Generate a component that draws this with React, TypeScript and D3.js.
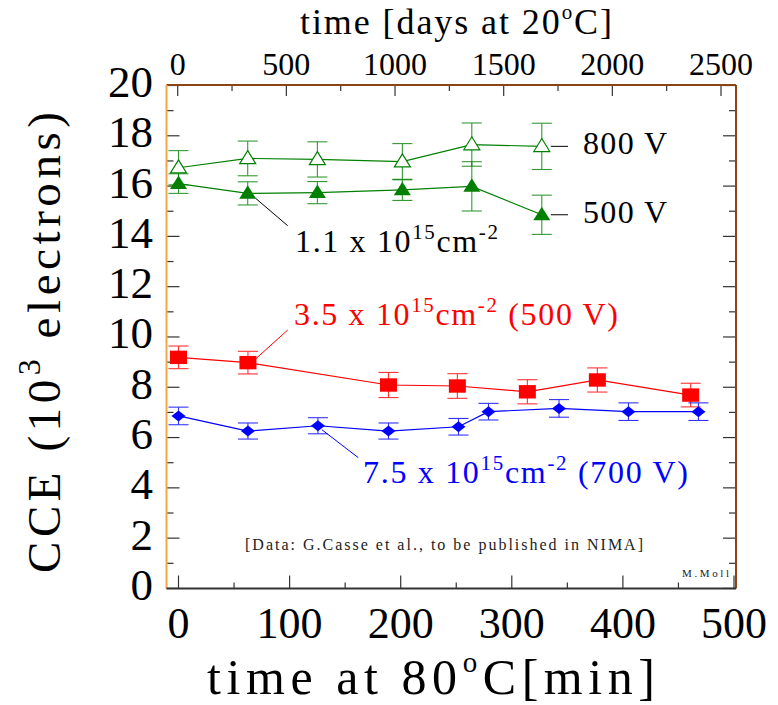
import React from "react";
import * as d3 from "d3";

// Annealing at 80°C: charge collection efficiency of irradiated sensors
const openTriMin = [0, 62.3, 125, 201.5, 264, 327];
const openTriCCE = [16.73, 17.1, 17.06, 16.97, 17.65, 17.58];
const openTriErr = [0.68, 0.69, 0.7, 0.72, 0.86, 0.92];

const fullTriMin = [0, 62.3, 125, 201.5, 264, 327];
const fullTriCCE = [16.1, 15.71, 15.74, 15.85, 15.99, 14.86];
const fullTriErr = [0.39, 0.46, 0.44, 0.42, 0.98, 0.78];

const squareMin = [0, 62.5, 189, 251, 314, 377, 461];
const squareCCE = [9.19, 8.98, 8.09, 8.05, 7.82, 8.29, 7.69];
const squareErr = [0.45, 0.45, 0.5, 0.49, 0.48, 0.48, 0.47];

const diamondMin = [0, 62.5, 125.5, 189, 252, 279, 342.5, 405, 468];
const diamondCCE = [6.86, 6.26, 6.47, 6.26, 6.43, 7.03, 7.16, 7.03, 7.03];
const diamondErr = [0.35, 0.32, 0.32, 0.32, 0.33, 0.33, 0.35, 0.35, 0.35];

const yTicks = [0, 2, 4, 6, 8, 10, 12, 14, 16, 18, 20];
const xTicks = [0, 100, 200, 300, 400, 500];
const dayTicks = [0, 500, 1000, 1500, 2000, 2500];

const GREEN = "#008000";
const RED = "#ff0000";
const BLUE = "#0000ff";
const FONT = "'Liberation Serif', 'Times New Roman', serif";

type Pt = { x: number; y: number; e: number };
const zip = (xs: number[], ys: number[], es: number[]): Pt[] =>
  xs.map((x, i) => ({ x, y: ys[i], e: es[i] }));

export default function App() {
  const frame = { left: 166.5, right: 736, top: 85, bottom: 588.5 };
  const x = d3.scaleLinear().domain([0, 500]).range([178.5, 734]);
  const xDays = d3.scaleLinear().domain([0, 2500]).range([177.7, 721]);
  const y = d3.scaleLinear().domain([0, 20]).range([588.45, 85.5]);

  const line = d3
    .line<Pt>()
    .x((d) => x(d.x))
    .y((d) => y(d.y));

  const openTri = zip(openTriMin, openTriCCE, openTriErr);
  const fullTri = zip(fullTriMin, fullTriCCE, fullTriErr);
  const squares = zip(squareMin, squareCCE, squareErr);
  const diamonds = zip(diamondMin, diamondCCE, diamondErr);

  const errBars = (pts: Pt[], color: string, key: string) =>
    pts.map((d, i) => {
      const cx = x(d.x);
      const y0 = y(d.y - d.e);
      const y1 = y(d.y + d.e);
      return (
        <g key={key + i} stroke={color} strokeWidth={1.1} opacity={0.8}>
          <line x1={cx} x2={cx} y1={y0} y2={y1} />
          <line x1={cx - 10} x2={cx + 10} y1={y0} y2={y0} />
          <line x1={cx - 10} x2={cx + 10} y1={y1} y2={y1} />
        </g>
      );
    });

  const triPath = (cx: number, cy: number, w: number, h: number) =>
    `M${cx},${cy - h * 0.6}L${cx + w / 2},${cy + h * 0.4}L${cx - w / 2},${cy + h * 0.4}Z`;

  const minorY = d3.range(1, 20, 2);
  const minorX = d3.range(50, 500, 100);
  const minorDays = d3.range(250, 2500, 500);

  const sup = (t: string, size: number, rise: number) => (
    <tspan fontSize={size} dy={-rise}>
      {t}
    </tspan>
  );

  return (
    <svg width={778} height={705} style={{ display: "block", position: "absolute", left: 0, top: 0 }}>
      <rect width={778} height={705} fill="#fff" />

      {/* ticks, inward */}
      <g stroke="#333" strokeWidth={1.2}>
        {yTicks.map((t) => (
          <g key={"yt" + t}>
            <line x1={frame.left} x2={frame.left + 13} y1={y(t)} y2={y(t)} />
            <line x1={frame.right} x2={frame.right - 13} y1={y(t)} y2={y(t)} />
          </g>
        ))}
        {minorY.map((t) => (
          <g key={"ym" + t}>
            <line x1={frame.left} x2={frame.left + 7} y1={y(t)} y2={y(t)} />
            <line x1={frame.right} x2={frame.right - 7} y1={y(t)} y2={y(t)} />
          </g>
        ))}
        {xTicks.map((t) => (
          <line key={"xt" + t} x1={x(t)} x2={x(t)} y1={frame.bottom} y2={frame.bottom - 13} />
        ))}
        {minorX.map((t) => (
          <line key={"xm" + t} x1={x(t)} x2={x(t)} y1={frame.bottom} y2={frame.bottom - 6} />
        ))}
        {dayTicks.map((t) => (
          <line key={"dt" + t} x1={xDays(t)} x2={xDays(t)} y1={frame.top} y2={frame.top + 11} />
        ))}
        {minorDays.map((t) => (
          <line key={"dm" + t} x1={xDays(t)} x2={xDays(t)} y1={frame.top} y2={frame.top + 6} />
        ))}
      </g>

      {/* frame */}
      <line x1={frame.left} x2={frame.right} y1={frame.top} y2={frame.top} stroke="#8b4513" strokeWidth={2} />
      <line x1={frame.right} x2={frame.right} y1={frame.top} y2={frame.bottom} stroke="#8b4513" strokeWidth={2} />
      <line x1={frame.left} x2={frame.left} y1={frame.top} y2={frame.bottom} stroke="#f2a848" strokeWidth={2} />
      <line x1={frame.left} x2={frame.right} y1={frame.bottom} y2={frame.bottom} stroke="#333" strokeWidth={2} />

      {/* tick labels */}
      <g fontFamily={FONT} fill="#000">
        {yTicks.map((t) => (
          <text key={"yl" + t} x={153} y={y(t) + 11.5} fontSize={45} textAnchor="end">
            {t}
          </text>
        ))}
        {xTicks.map((t) => (
          <text key={"xl" + t} x={x(t)} y={638} fontSize={44} textAnchor="middle">
            {t}
          </text>
        ))}
        {dayTicks.map((t) => (
          <text key={"dl" + t} x={xDays(t)} y={75} fontSize={32} textAnchor="middle">
            {t}
          </text>
        ))}
      </g>

      {/* axis titles */}
      <g fontFamily={FONT} fill="#000">
        <text x={207} y={694} fontSize={50} textLength={448} lengthAdjust="spacing">
          time at 80{sup("o", 29, 22)}
          <tspan dy={22}>C[min]</tspan>
        </text>
        <text x={300} y={34} fontSize={36} textLength={312} lengthAdjust="spacing">
          time [days at 20{sup("o", 21, 15)}
          <tspan dy={15}>C]</tspan>
        </text>
        <text
          transform="translate(60,573) rotate(-90)"
          x={0}
          y={0}
          fontSize={47}
          textLength={461}
          lengthAdjust="spacing"
        >
          CCE (10{sup("3", 32, 20)}
          <tspan dy={20}> electrons)</tspan>
        </text>
      </g>

      {/* data lines */}
      <g fill="none" strokeWidth={1.2}>
        <path d={line(openTri) ?? ""} stroke={GREEN} />
        <path d={line(fullTri) ?? ""} stroke={GREEN} />
        <path d={line(squares) ?? ""} stroke={RED} />
        <path d={line(diamonds) ?? ""} stroke={BLUE} />
      </g>

      {/* error bars */}
      {errBars(openTri, GREEN, "eo")}
      {errBars(fullTri, GREEN, "ef")}
      {errBars(squares, RED, "es")}
      {errBars(diamonds, BLUE, "ed")}

      {/* markers */}
      {openTri.map((d, i) => (
        <path key={"ot" + i} d={triPath(x(d.x), y(d.y), 16, 13)} fill="#fff" stroke={GREEN} strokeWidth={1.2} />
      ))}
      {fullTri.map((d, i) => (
        <path key={"ft" + i} d={triPath(x(d.x), y(d.y), 17, 13.5)} fill={GREEN} />
      ))}
      {squares.map((d, i) => (
        <rect key={"sq" + i} x={x(d.x) - 8.5} y={y(d.y) - 6.7} width={17} height={13.4} fill={RED} />
      ))}
      {diamonds.map((d, i) => {
        const cx = x(d.x);
        const cy = y(d.y);
        return (
          <path
            key={"dm" + i}
            d={`M${cx},${cy - 5.5}L${cx + 7},${cy}L${cx},${cy + 5.5}L${cx - 7},${cy}Z`}
            fill={BLUE}
          />
        );
      })}

      {/* annotations */}
      <g fontFamily={FONT}>
        <line
          x1={x(openTriMin[5]) + 9}
          x2={568}
          y1={y(openTriCCE[5])}
          y2={y(openTriCCE[5])}
          stroke="#000"
          strokeWidth={1}
        />
        <text x={583} y={154} fontSize={32} textLength={84} lengthAdjust="spacing">
          800 V
        </text>
        <line
          x1={x(fullTriMin[5]) + 9}
          x2={568}
          y1={y(fullTriCCE[5])}
          y2={y(fullTriCCE[5])}
          stroke="#000"
          strokeWidth={1}
        />
        <text x={583} y={222.5} fontSize={32} textLength={84} lengthAdjust="spacing">
          500 V
        </text>

        <line x1={x(fullTriMin[1]) + 8} y1={y(fullTriCCE[1]) + 5} x2={287.7} y2={225.7} stroke="#000" strokeWidth={1} />
        <text x={295} y={251.7} fontSize={32} fill="#000" textLength={203} lengthAdjust="spacing">
          1.1 x 10{sup("15", 21, 13)}
          <tspan dy={13}>cm</tspan>
          {sup("-2", 21, 13)}
        </text>

        <line x1={x(squareMin[1]) + 8} y1={y(squareCCE[1]) - 4} x2={287.7} y2={330} stroke={RED} strokeWidth={1} />
        <text x={294} y={325} fontSize={32} fill={RED} textLength={324} lengthAdjust="spacing">
          3.5 x 10{sup("15", 21, 13)}
          <tspan dy={13}>cm</tspan>
          {sup("-2", 21, 13)}
          <tspan dy={13}> (500 V)</tspan>
        </text>

        <line x1={x(diamondMin[2]) + 4} y1={y(diamondCCE[2]) + 4} x2={358.3} y2={457.7} stroke={BLUE} strokeWidth={1} />
        <text x={363} y={483} fontSize={32} fill={BLUE} textLength={325} lengthAdjust="spacing">
          7.5 x 10{sup("15", 21, 13)}
          <tspan dy={13}>cm</tspan>
          {sup("-2", 21, 13)}
          <tspan dy={13}> (700 V)</tspan>
        </text>

        <text x={245} y={550} fontSize={16} fill="#222" textLength={398} lengthAdjust="spacing">
          [Data: G.Casse et al., to be published in NIMA]
        </text>
        <text x={682} y={577} fontSize={11} fill="#222" textLength={47} lengthAdjust="spacing">
          M.Moll
        </text>
      </g>
    </svg>
  );
}
